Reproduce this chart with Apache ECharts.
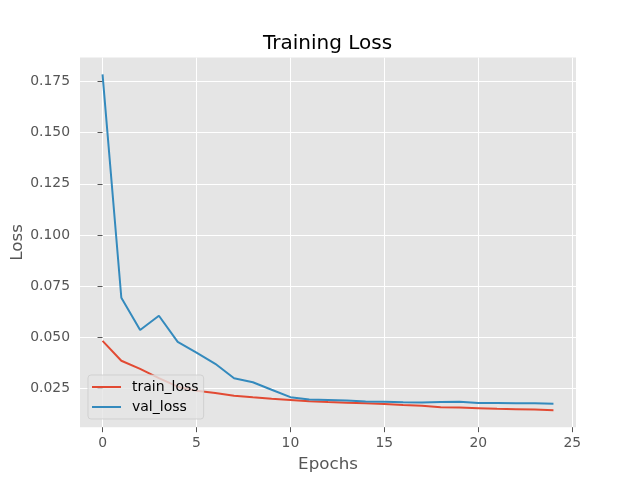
<!DOCTYPE html>
<html>
<head>
<meta charset="utf-8">
<script src="https://cdn.jsdelivr.net/npm/echarts@6/dist/echarts.min.js"></script>
<style>html,body{margin:0;padding:0;background:#fff}#c{width:640px;height:480px}</style>
</head>
<body>
<div id="c"></div>
<script>
const epochs = [0,1,2,3,4,5,6,7,8,9,10,11,12,13,14,15,16,17,18,19,20,21,22,23,24];
const trainLoss = [0.0482,0.0385,0.0345,0.0300,0.0258,0.0238,0.0227,0.0214,0.0206,0.0199,0.0193,0.0187,0.0183,0.0180,0.0177,0.0174,0.0169,0.0165,0.0158,0.0156,0.0153,0.0150,0.0148,0.0146,0.0143];
const valLoss = [0.1785,0.0693,0.0535,0.0605,0.0477,0.0425,0.0370,0.0299,0.0280,0.0243,0.0207,0.0196,0.0193,0.0190,0.0186,0.0184,0.0182,0.0181,0.0183,0.0185,0.0178,0.0178,0.0177,0.0177,0.0175];
const xTicks = [0,5,10,15,20,25];
const yTicks = [0.025,0.050,0.075,0.100,0.125,0.150,0.175];

const font = 'DejaVu Sans';
const chart = echarts.init(document.getElementById('c'), null, {renderer:'canvas'});
const axisCommon = {
  axisLine:{show:false},
  splitLine:{show:true, lineStyle:{color:'#ffffff', width:1}},
  splitArea:{show:false}
};
chart.setOption({
  animation:false,
  backgroundColor:'#ffffff',
  title:{text:'Training Loss', left:258, top:29,
    textStyle:{fontFamily:font, fontSize:20, fontWeight:'normal', color:'#000000'}},
  grid:{left:80, right:64, top:57.6, bottom:52.8, containLabel:false, outerBoundsMode:'none',
    show:true, backgroundColor:'#E5E5E5', borderWidth:0},
  legend:{
    orient:'vertical', left:88, top:375,
    data:['train_loss','val_loss'],
    icon:'rect', itemWidth:29, itemHeight:2, itemGap:6,
    padding:[5,5,5,4],
    backgroundColor:'rgba(229,229,229,0.8)',
    borderColor:'rgba(204,204,204,0.8)', borderWidth:1, borderRadius:3,
    textStyle:{fontFamily:font, fontSize:14, color:'#000000', padding:[0,0,0,6], lineHeight:14}
  },
  xAxis:Object.assign({}, axisCommon, {
    type:'value', min:-1.2, max:25.2,
    name:'Epochs', nameLocation:'middle', nameGap:29, nameMoveOverlap:false,
    nameTextStyle:{fontFamily:font, fontSize:16.7, color:'#555555'},
    axisTick:{show:true, inside:false, length:5, lineStyle:{color:'#555555', width:1}, customValues:xTicks},
    axisLabel:{fontFamily:font, fontSize:13.9, color:'#555555', margin:9, customValues:xTicks,
      formatter:v=>String(v)}
  }),
  yAxis:Object.assign({}, axisCommon, {
    type:'value', min:0.0060, max:0.1867,
    name:'Loss', nameLocation:'middle', nameGap:54, nameRotate:90, nameMoveOverlap:false,
    nameTextStyle:{fontFamily:font, fontSize:16.7, color:'#555555'},
    axisTick:{show:true, inside:false, length:5, lineStyle:{color:'#555555', width:1}, customValues:yTicks},
    axisLabel:{fontFamily:font, fontSize:13.9, color:'#555555', margin:10, customValues:yTicks,
      formatter:v=>v.toFixed(3)}
  }),
  series:[
    {name:'train_loss', type:'line', data:epochs.map((e,i)=>[e,trainLoss[i]]),
      symbol:'none', lineStyle:{color:'#E24A33', width:2}, itemStyle:{color:'#E24A33'}},
    {name:'val_loss', type:'line', data:epochs.map((e,i)=>[e,valLoss[i]]),
      symbol:'none', lineStyle:{color:'#348ABD', width:2}, itemStyle:{color:'#348ABD'}}
  ]
});
</script>
</body>
</html>
